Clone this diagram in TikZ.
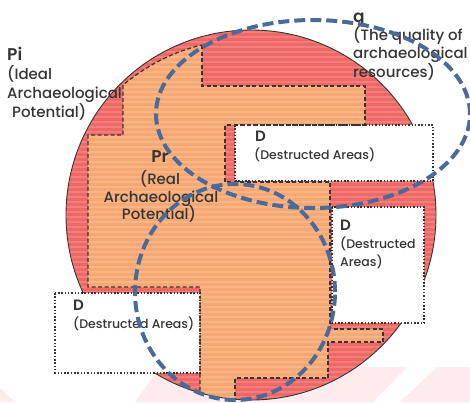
\documentclass[tikz,border=0pt]{standalone}
\usepackage{fontspec}
\setmainfont{Poppins}[UprightFont={* Medium}, BoldFont={* SemiBold}]
\usepackage{tikz}
\definecolor{sitered}{HTML}{EF6864}
\definecolor{siteorange}{HTML}{F7A872}
\definecolor{qblue}{HTML}{4A6A9A}
\definecolor{inkgray}{HTML}{353535}
\definecolor{wmpink}{HTML}{FDEBEE}
\tikzset{
  zone/.style={draw=inkgray, line width=1.2pt, dash pattern=on 4pt off 2.5pt},
  dbox/.style={fill=white, draw=inkgray, line width=1.5pt, dash pattern=on 1.5pt off 1.8pt},
  qline/.style={draw=qblue, line width=4pt, dash pattern=on 11pt off 5pt},
  stripe/.style={white, opacity=0.16, line width=1.6pt},
  txt/.style={text=inkgray, inner sep=0pt, anchor=base west},
  bigtxt/.style={font=\fontsize{17}{19}\selectfont\bfseries},
  dtxt/.style={font=\fontsize{15}{18}\selectfont\bfseries},
  midtxt/.style={font=\fontsize{15}{18}\selectfont},
  smalltxt/.style={font=\fontsize{12.5}{14}\selectfont}
}

\begin{document}
\begin{tikzpicture}[x=1pt, y=-1pt]
  \useasboundingbox (0,0) rectangle (470,402);
  % watermark at the bottom
  \fill[wmpink] (0,388) -- (15,402) -- (0,402) -- cycle;
  \fill[wmpink] (135,402) -- (160,367) -- (407,367) -- (373,402) -- cycle;
  \fill[wmpink] (437,367) -- (470,367) -- (470,402) -- (400,402) -- cycle;
  % ideal potential
  \fill[sitered] (251,215) circle [radius=185pt];
  \begin{scope}
    \clip (251,215) circle [radius=185pt];
    \fill[siteorange] (202,45) -- (202,86) -- (365,86) -- (365,125) -- (225,125)
      -- (225,182) -- (330,182) -- (330,329) -- (383,329) -- (383,342) -- (328,342)
      -- (328,378) -- (235,378) -- (235,410) -- (200,410) -- (200,287) -- (88,287)
      -- (88,135) -- (123,135) -- (123,85) .. controls (146,66) and (172,52) .. cycle;
    \foreach \y in {32,37,...,402}
      \draw[stripe] (60,\y) -- (440,\y);
  \end{scope}
  \draw[inkgray, line width=0.9pt] (251,215) circle [radius=185pt];
  % destructed areas
  \draw[dbox] (235,125) rectangle (433,181);
  \draw[dbox] (332,207) rectangle (424,323);
  \draw[dbox] (55,293) rectangle (200,373);
  % labels
  \node[txt,bigtxt] (pi) at (7,60) {Pi};
  \node[txt,midtxt] (piA) at (7,79) {(Ideal};
  \node[txt,midtxt] (piB) at (7,98) {Archaeological};
  \node[txt,midtxt] (piC) at (12,117) {Potential)};
  \node[txt,bigtxt] (q) at (353,22) {q};
  \node[txt,midtxt] (qA) at (353,40) {(The quality of};
  \node[txt,midtxt] (qB) at (353,58) {archaeological};
  \node[txt,midtxt] (qC) at (353,77) {resources)};
  \node[txt,bigtxt,anchor=base] (pr) at (160,162) {Pr};
  \node[txt,midtxt,anchor=base] (prA) at (160,184) {(Real};
  \node[txt,midtxt,anchor=base] (prB) at (161,202) {Archaeological};
  \node[txt,midtxt,anchor=base] (prC) at (159,219) {Potential)};
  \node[txt,dtxt] (dtop) at (255,141) {D};
  \node[txt,smalltxt] (dtopA) at (254,159) {(Destructed Areas)};
  \node[txt,dtxt] (dright) at (340,230) {D};
  \node[txt,smalltxt] (drightA) at (340,248) {(Destructed};
  \node[txt,smalltxt] (drightB) at (340,266) {Areas)};
  \node[txt,dtxt] (dleft) at (73,310) {D};
  \node[txt,smalltxt] (dleftA) at (73,328) {(Destructed Areas)};
  % real potential border
  \begin{scope}
    \clip (251,215) circle [radius=185pt];
    \draw[zone] (202,45) -- (202,86) -- (365,86) -- (365,125) -- (225,125)
      -- (225,182) -- (330,182) -- (330,329) -- (383,329) -- (383,342) -- (328,342)
      -- (328,378) -- (235,378) -- (235,410);
    \draw[zone] (200,410) -- (200,287) -- (88,287)
      -- (88,135) -- (123,135) -- (123,85) .. controls (146,66) and (172,52) .. (202,45);
  \end{scope}
  % quality of resources
  \draw[qline] (313,114) ellipse [x radius=157pt, y radius=94pt];
  \draw[qline] (235,292) ellipse [x radius=100pt, y radius=108pt];
\end{tikzpicture}
\end{document}
